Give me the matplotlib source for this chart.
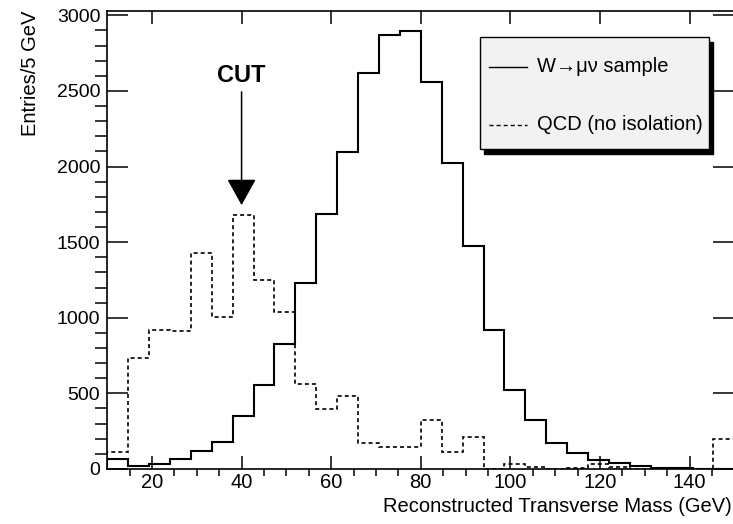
import numpy as np
import matplotlib
matplotlib.use("Agg")
from matplotlib import pyplot as plt
import matplotlib.patches as mpatches
from matplotlib.lines import Line2D

plt.rcParams['font.family'] = ['Liberation Sans', 'DejaVu Sans']
plt.rcParams['lines.scale_dashes'] = False

# 30 bins from 10 to 150 GeV
mass_lo, mass_hi, n_bins = 10, 150, 30
w_sample = [64, 21, 33, 64, 116, 176, 350, 555, 827, 1228,
            1688, 2097, 2621, 2873, 2895, 2559, 2024, 1475, 916, 524,
            322, 170, 105, 58, 37, 20, 9, 9, 0, 0]
qcd_noiso = [115, 734, 922, 911, 1427, 1004, 1679, 1248, 1040, 564,
             398, 484, 170, 148, 148, 325, 115, 210, 0, 36,
             13, 0, 8, 32, 10, 0, 0, 0, 0, 198]
cut_gev = 40
cut_arrow = (2494, 1745)   # arrow start / tip (entries)
cut_text_y = 2604

edges = np.linspace(mass_lo, mass_hi, n_bins + 1)

fig = plt.figure(figsize=(7.33, 5.24), dpi=100)
ax = fig.add_axes([0.1462, 0.105, 0.8557, 0.8746])

dash = (0, (2.9, 2.2))
ax.stairs(w_sample, edges, color='black', lw=1.5)
ax.stairs(qcd_noiso, edges, color='black', lw=1.2, linestyle=dash)

ax.set_xlim(mass_lo, mass_hi)
ax.set_ylim(0, 3031)
ax.set_xticks([20, 40, 60, 80, 100, 120, 140])
ax.set_xticks(np.arange(15, 150, 5), minor=True)
ax.set_yticks(np.arange(0, 3001, 500))
ax.set_yticks(np.arange(0, 3001, 100), minor=True)
ax.tick_params(axis='both', direction='in', top=True, right=True, width=1.1)
ax.tick_params(axis='x', which='major', length=9.4, pad=3, labelsize=14.5)
ax.tick_params(axis='x', which='minor', length=5, width=1.1)
ax.tick_params(axis='y', which='major', length=15, pad=5, labelsize=14)
ax.tick_params(axis='y', which='minor', length=8.5, width=1.1, right=True)
for s in ax.spines.values():
    s.set_linewidth(1.2)

ax.set_xlabel('Reconstructed Transverse Mass (GeV)', fontsize=14.5, loc='right')
ax.xaxis.set_label_coords(0.996, -0.062)
ax.set_ylabel('Entries/5 GeV', fontsize=14.5, loc='top')
ax.yaxis.set_label_coords(-0.107, 1.0)

# cut arrow
ax.annotate('', xy=(cut_gev, cut_arrow[1]), xytext=(cut_gev, cut_arrow[0]),
            arrowprops=dict(arrowstyle='-|>,head_length=1.66,head_width=0.92',
                            mutation_scale=10, color='black', lw=1.1,
                            shrinkA=0, shrinkB=0))
ax.text(cut_gev, cut_text_y, 'CUT', fontsize=17, fontweight='bold',
        ha='center', va='center')

# legend box with black shadow
x0, x1, y0, y1 = 0.5944, 0.96, 0.6982, 0.942
shadow = mpatches.Rectangle((x0 + 0.0066, y0 - 0.011), x1 - x0, y1 - y0,
                            transform=ax.transAxes, facecolor='black',
                            edgecolor='black', zorder=4)
box = mpatches.Rectangle((x0, y0), x1 - x0, y1 - y0, transform=ax.transAxes,
                         facecolor='#f2f2f2', edgecolor='black', lw=1.0, zorder=5)
ax.add_patch(shadow)
ax.add_patch(box)
ax.add_line(Line2D([0.6087, 0.6693], [0.878, 0.878], transform=ax.transAxes,
                   color='black', lw=1.0, zorder=6))
ax.add_line(Line2D([0.6087, 0.6693], [0.7506, 0.7506], transform=ax.transAxes,
                   color='black', lw=1.0, linestyle=dash, zorder=6))
ax.text(0.685, 0.878, 'W\u2192\u03bc\u03bd sample', transform=ax.transAxes,
        fontsize=14.5, va='center', ha='left', zorder=6)
ax.text(0.685, 0.7506, 'QCD (no isolation)', transform=ax.transAxes,
        fontsize=14.5, va='center', ha='left', zorder=6)

fig.savefig('out.png', dpi=100)
